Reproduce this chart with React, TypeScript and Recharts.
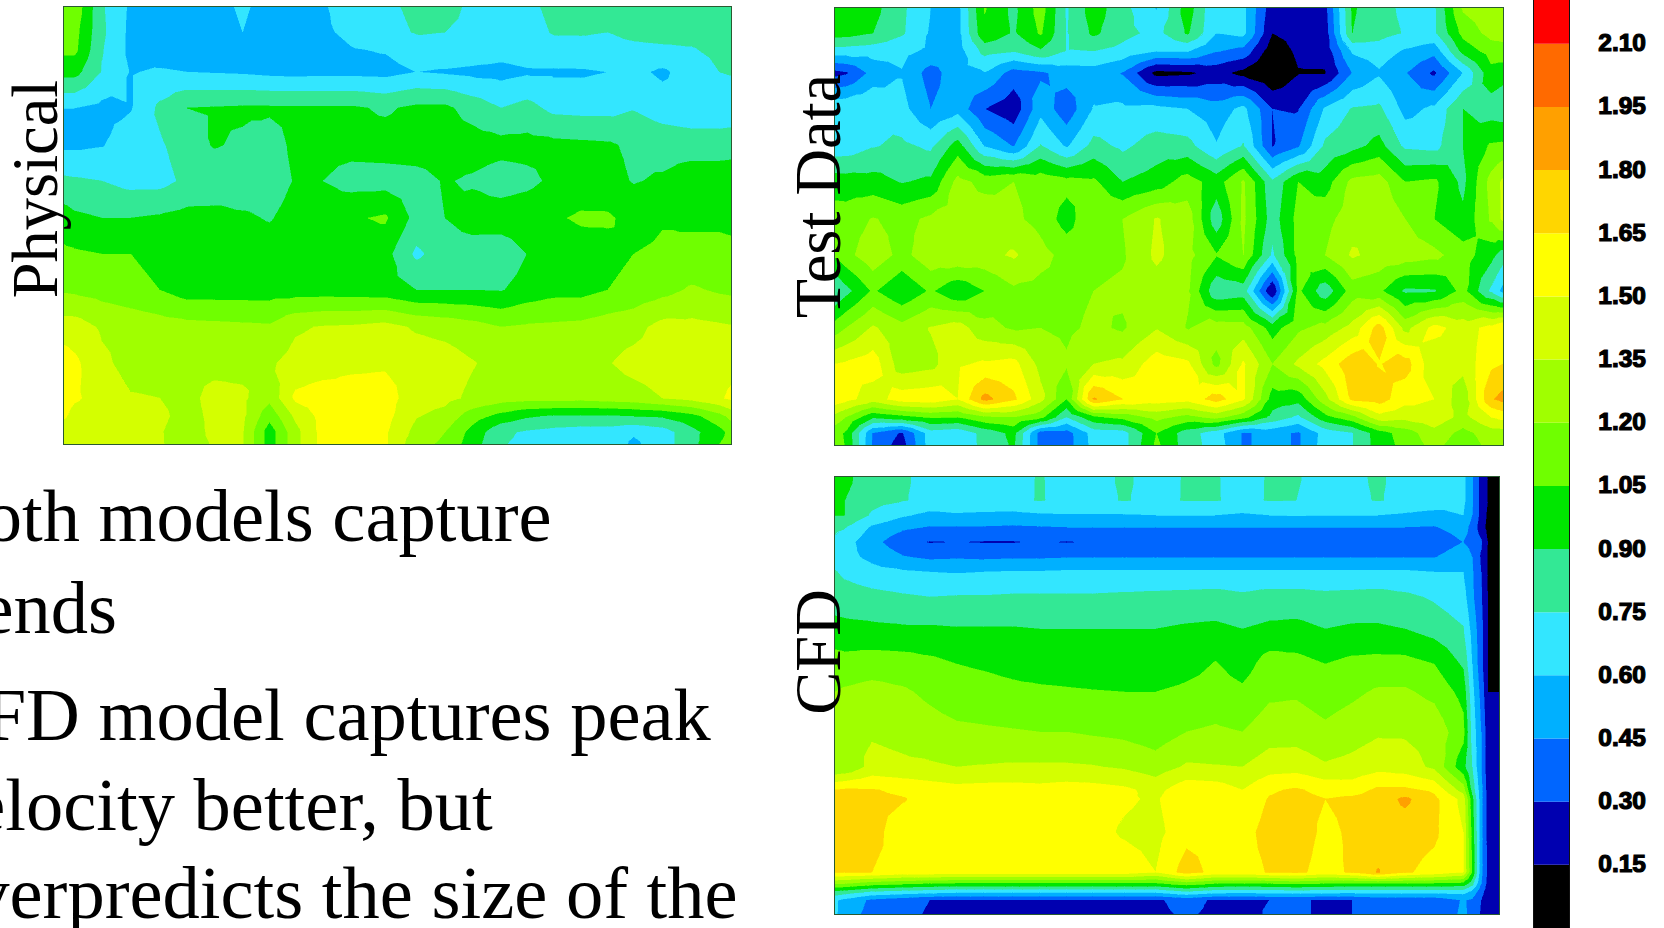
import { Bar, BarChart, Scatter, ScatterChart, XAxis, YAxis } from "recharts";

// velocity bands, black at the bottom of the scale and red at the top
const levelTicks = [0.15, 0.3, 0.45, 0.6, 0.75, 0.9, 1.05, 1.2, 1.35, 1.5, 1.65, 1.8, 1.95, 2.1];
const levelColors = ["#000000", "#0000b0", "#0066ff", "#00b0ff", "#33e6ff", "#33e895", "#00e600", "#6fff00", "#a0ff00", "#d4ff00", "#ffff00", "#ffd600", "#ffa000", "#ff6a00", "#ff0000"];

// measurement stations, shared by the physical and test data panels
const stationsX = [0, 11, 38, 67, 96, 123, 150, 179, 206, 232, 259, 288, 322, 353, 382, 409, 438, 464, 491, 518, 545, 571, 600, 629, 657, 669];
const stationsY = [0, 25, 43, 65, 101, 138, 174, 211, 247, 283, 320, 356, 391, 409, 425, 437];

// the CFD mesh is tighter near the right and bottom walls
const cfdStationsX = [0, 10, 37, 68, 95, 122, 149, 178, 205, 232, 258, 290, 321, 352, 381, 408, 435, 462, 491, 518, 544, 571, 600, 629, 638, 647, 654, 665];
const cfdStationsY = [0, 23, 38, 50, 65, 80, 95, 120, 152, 187, 215, 255, 290, 313, 322, 355, 395, 407, 415, 423, 437];

const physicalValues = [
  [1.15, 1.15, 0.77, 0.57, 0.55, 0.55, 0.55, 0.62, 0.55, 0.55, 0.58, 0.68, 0.72, 0.78, 0.8, 0.72, 0.68, 0.72, 0.78, 0.8, 0.8, 0.81, 0.81, 0.82, 0.82, 0.82],
  [1.12, 1.1, 0.78, 0.56, 0.54, 0.54, 0.53, 0.6, 0.53, 0.53, 0.57, 0.64, 0.7, 0.76, 0.75, 0.72, 0.68, 0.7, 0.76, 0.76, 0.75, 0.78, 0.79, 0.79, 0.8, 0.82],
  [1.08, 1.08, 0.76, 0.56, 0.5, 0.5, 0.5, 0.5, 0.5, 0.5, 0.52, 0.59, 0.61, 0.68, 0.72, 0.7, 0.66, 0.68, 0.7, 0.71, 0.71, 0.72, 0.73, 0.74, 0.78, 0.8],
  [0.95, 0.95, 0.74, 0.59, 0.62, 0.6, 0.59, 0.58, 0.56, 0.55, 0.56, 0.56, 0.55, 0.6, 0.58, 0.56, 0.55, 0.58, 0.58, 0.58, 0.6, 0.64, 0.57, 0.68, 0.75, 0.76],
  [0.6, 0.6, 0.56, 0.59, 0.78, 0.9, 0.91, 0.92, 0.92, 0.92, 0.92, 0.92, 0.88, 0.93, 0.93, 0.84, 0.75, 0.8, 0.71, 0.7, 0.7, 0.74, 0.68, 0.66, 0.66, 0.66],
  [0.57, 0.57, 0.59, 0.68, 0.73, 0.82, 0.91, 0.88, 0.84, 0.93, 0.95, 0.95, 0.96, 0.97, 0.97, 0.97, 0.95, 0.95, 0.94, 0.93, 0.92, 0.87, 0.84, 0.82, 0.82, 0.83],
  [0.78, 0.77, 0.75, 0.7, 0.7, 0.78, 0.8, 0.82, 0.83, 0.91, 0.9, 0.84, 0.84, 0.85, 0.91, 0.88, 0.83, 0.86, 0.93, 0.97, 0.95, 0.89, 0.92, 1.0, 1.0, 1.0],
  [0.97, 0.93, 0.9, 0.9, 0.92, 0.95, 0.95, 0.92, 0.89, 0.95, 1.0, 1.03, 1.07, 0.85, 0.9, 0.97, 0.98, 1.0, 1.03, 1.07, 1.07, 1.0, 1.04, 1.03, 1.03, 1.02],
  [1.08, 1.07, 1.05, 1.05, 1.0, 0.98, 0.97, 0.97, 0.97, 0.97, 0.98, 0.97, 0.95, 0.72, 0.82, 0.82, 0.8, 0.9, 0.95, 0.98, 1.0, 1.05, 1.07, 1.08, 1.08, 1.08],
  [1.18, 1.17, 1.14, 1.1, 1.05, 0.98, 0.98, 0.98, 0.98, 0.98, 0.98, 0.97, 0.96, 0.9, 0.9, 0.9, 0.89, 0.96, 1.0, 1.0, 1.05, 1.1, 1.15, 1.22, 1.18, 1.17],
  [1.42, 1.42, 1.33, 1.3, 1.27, 1.25, 1.24, 1.23, 1.22, 1.33, 1.36, 1.37, 1.4, 1.33, 1.3, 1.26, 1.2, 1.22, 1.23, 1.24, 1.28, 1.3, 1.4, 1.39, 1.37, 1.36],
  [1.58, 1.53, 1.38, 1.3, 1.3, 1.3, 1.3, 1.3, 1.33, 1.4, 1.42, 1.47, 1.48, 1.44, 1.42, 1.36, 1.3, 1.28, 1.28, 1.3, 1.34, 1.4, 1.43, 1.44, 1.44, 1.45],
  [1.55, 1.52, 1.44, 1.36, 1.35, 1.3, 1.4, 1.38, 1.24, 1.53, 1.58, 1.56, 1.56, 1.42, 1.39, 1.32, 1.27, 1.25, 1.26, 1.25, 1.27, 1.29, 1.35, 1.4, 1.48, 1.53],
  [1.52, 1.45, 1.42, 1.4, 1.38, 1.3, 1.38, 1.38, 1.1, 1.38, 1.55, 1.58, 1.55, 1.36, 1.3, 1.12, 1.0, 0.92, 0.88, 0.88, 0.88, 0.9, 0.92, 1.0, 1.15, 1.25],
  [1.42, 1.4, 1.4, 1.38, 1.36, 1.28, 1.38, 1.36, 0.97, 1.3, 1.55, 1.58, 1.52, 1.3, 1.2, 1.0, 0.78, 0.73, 0.7, 0.68, 0.68, 0.62, 0.68, 0.85, 1.0, 1.1],
  [1.4, 1.38, 1.38, 1.38, 1.36, 1.3, 1.36, 1.36, 0.97, 1.3, 1.55, 1.58, 1.52, 1.25, 1.17, 0.97, 0.76, 0.72, 0.7, 0.7, 0.7, 0.57, 0.68, 0.85, 1.05, 1.1],
];

const testValues = [
  [0.98, 0.98, 0.95, 0.78, 0.6, 0.55, 1.06, 0.86, 1.12, 0.73, 0.98, 0.8, 0.59, 0.98, 0.6, 0.64, 0.2, 0.22, 0.25, 0.92, 0.8, 0.72, 0.72, 1.22, 1.3, 1.3],
  [0.97, 0.96, 0.9, 0.77, 0.58, 0.55, 1.02, 0.88, 1.07, 0.74, 0.93, 0.8, 0.7, 0.92, 0.6, 0.64, 0.15, 0.2, 0.22, 0.9, 0.8, 0.74, 0.72, 1.1, 1.25, 1.25],
  [0.68, 0.68, 0.66, 0.64, 0.57, 0.53, 0.8, 0.76, 0.88, 0.74, 0.75, 0.7, 0.6, 0.61, 0.46, 0.4, 0.05, 0.18, 0.2, 0.62, 0.68, 0.58, 0.5, 0.95, 1.12, 1.15],
  [0.25, 0.28, 0.5, 0.59, 0.38, 0.55, 0.59, 0.38, 0.42, 0.52, 0.53, 0.44, 0.1, 0.12, 0.2, 0.1, 0.0, 0.14, 0.14, 0.45, 0.58, 0.46, 0.27, 0.6, 1.0, 0.95],
  [0.72, 0.73, 0.75, 0.65, 0.45, 0.54, 0.3, 0.2, 0.55, 0.35, 0.61, 0.63, 0.64, 0.6, 0.52, 0.64, 0.3, 0.29, 0.62, 0.76, 0.78, 0.55, 0.63, 0.9, 0.82, 0.8],
  [0.65, 0.66, 0.74, 0.78, 0.72, 0.97, 0.59, 0.44, 0.76, 0.58, 0.8, 0.72, 0.82, 0.8, 0.61, 0.76, 0.29, 0.43, 0.78, 0.85, 0.95, 0.72, 0.7, 0.9, 1.07, 1.08],
  [0.98, 0.97, 0.96, 0.89, 0.93, 1.25, 1.15, 1.2, 1.15, 1.1, 1.08, 0.9, 0.97, 1.12, 0.98, 1.22, 0.78, 1.05, 0.98, 1.24, 1.27, 1.05, 1.08, 0.86, 1.25, 1.38],
  [1.12, 1.12, 1.21, 1.15, 1.23, 1.28, 1.3, 1.23, 1.15, 0.98, 1.19, 1.2, 1.36, 1.28, 0.8, 1.23, 0.82, 1.1, 1.15, 1.28, 1.32, 1.2, 1.05, 0.93, 1.22, 1.38],
  [1.07, 1.15, 1.3, 1.15, 1.3, 1.33, 1.3, 1.37, 1.25, 1.15, 1.15, 1.18, 1.38, 1.25, 1.06, 1.2, 0.72, 1.1, 1.2, 1.37, 1.3, 1.28, 1.24, 1.12, 0.95, 0.82],
  [0.75, 0.85, 1.07, 0.92, 1.07, 0.92, 1.05, 1.17, 1.15, 1.15, 1.2, 1.23, 1.28, 1.22, 0.78, 0.82, 0.14, 1.08, 0.8, 1.12, 1.08, 0.87, 0.88, 1.1, 0.72, 0.55],
  [1.12, 1.2, 1.37, 1.25, 1.36, 1.42, 1.25, 1.18, 1.2, 1.17, 1.23, 1.18, 1.34, 1.19, 1.28, 1.27, 0.98, 1.17, 1.25, 1.4, 1.72, 1.3, 1.55, 1.43, 1.55, 1.65],
  [1.5, 1.52, 1.58, 1.26, 1.3, 1.48, 1.52, 1.55, 1.3, 1.22, 1.35, 1.38, 1.58, 1.53, 1.15, 1.52, 1.2, 1.38, 1.55, 1.75, 1.64, 1.72, 1.38, 1.4, 1.62, 1.65],
  [1.6, 1.55, 1.42, 1.58, 1.6, 1.5, 1.85, 1.68, 1.4, 1.05, 1.82, 1.65, 1.58, 1.55, 1.72, 1.52, 0.98, 0.95, 1.3, 1.68, 1.72, 1.55, 1.5, 1.25, 1.78, 1.85],
  [1.3, 1.2, 0.93, 1.0, 1.07, 1.05, 1.18, 1.2, 1.1, 0.75, 1.02, 1.1, 1.25, 1.15, 1.25, 1.1, 0.85, 0.72, 1.0, 1.15, 1.45, 1.4, 1.45, 1.3, 1.5, 1.55],
  [1.1, 1.03, 0.44, 0.28, 0.68, 0.64, 0.8, 0.94, 0.38, 0.38, 0.66, 0.68, 1.05, 0.82, 0.66, 0.43, 0.5, 0.43, 0.66, 0.74, 0.98, 1.12, 1.3, 1.15, 1.28, 1.28],
  [1.1, 1.04, 0.42, 0.23, 0.68, 0.62, 0.8, 0.92, 0.38, 0.38, 0.65, 0.68, 1.08, 0.82, 0.68, 0.43, 0.5, 0.43, 0.67, 0.74, 0.97, 1.1, 1.25, 1.1, 1.25, 1.25],
];

const cfdValues = [
  [0.98, 0.95, 0.78, 0.77, 0.7, 0.7, 0.7, 0.7, 0.76, 0.7, 0.7, 0.77, 0.7, 0.76, 0.76, 0.7, 0.76, 0.76, 0.7, 0.72, 0.77, 0.7, 0.7, 0.64, 0.47, 0.25, 0.14, 0.1],
  [0.93, 0.9, 0.8, 0.76, 0.71, 0.71, 0.71, 0.71, 0.76, 0.71, 0.71, 0.76, 0.71, 0.76, 0.76, 0.71, 0.76, 0.75, 0.71, 0.72, 0.76, 0.71, 0.7, 0.64, 0.47, 0.25, 0.14, 0.1],
  [0.9, 0.9, 0.73, 0.62, 0.56, 0.58, 0.57, 0.56, 0.58, 0.59, 0.59, 0.59, 0.6, 0.6, 0.6, 0.58, 0.6, 0.61, 0.6, 0.6, 0.6, 0.58, 0.55, 0.6, 0.45, 0.25, 0.12, 0.08],
  [0.78, 0.76, 0.58, 0.48, 0.44, 0.44, 0.44, 0.43, 0.44, 0.45, 0.45, 0.45, 0.45, 0.45, 0.45, 0.45, 0.45, 0.45, 0.45, 0.45, 0.45, 0.45, 0.44, 0.52, 0.4, 0.22, 0.1, 0.08],
  [0.72, 0.66, 0.5, 0.35, 0.29, 0.3, 0.29, 0.29, 0.31, 0.29, 0.31, 0.32, 0.32, 0.32, 0.32, 0.32, 0.32, 0.32, 0.32, 0.32, 0.32, 0.32, 0.34, 0.45, 0.4, 0.32, 0.14, 0.1],
  [0.7, 0.65, 0.56, 0.46, 0.42, 0.43, 0.42, 0.43, 0.43, 0.44, 0.44, 0.44, 0.44, 0.44, 0.44, 0.44, 0.44, 0.44, 0.44, 0.44, 0.44, 0.44, 0.44, 0.55, 0.45, 0.28, 0.13, 0.08],
  [0.76, 0.72, 0.65, 0.62, 0.6, 0.59, 0.6, 0.61, 0.61, 0.62, 0.62, 0.62, 0.62, 0.62, 0.62, 0.62, 0.62, 0.62, 0.62, 0.62, 0.62, 0.62, 0.6, 0.6, 0.47, 0.3, 0.13, 0.08],
  [0.83, 0.82, 0.8, 0.77, 0.75, 0.76, 0.76, 0.77, 0.77, 0.77, 0.77, 0.78, 0.79, 0.8, 0.81, 0.78, 0.81, 0.81, 0.79, 0.8, 0.81, 0.78, 0.73, 0.66, 0.48, 0.32, 0.14, 0.1],
  [0.95, 0.94, 0.93, 0.92, 0.92, 0.91, 0.91, 0.91, 0.9, 0.9, 0.9, 0.9, 0.9, 0.92, 0.93, 0.9, 0.93, 0.94, 0.9, 0.92, 0.92, 0.9, 0.84, 0.76, 0.55, 0.35, 0.14, 0.1],
  [1.12, 1.11, 1.13, 1.12, 1.09, 1.05, 1.03, 1.0, 0.97, 0.96, 0.94, 0.93, 0.92, 0.98, 1.06, 0.98, 1.12, 1.1, 1.05, 1.09, 1.1, 1.1, 1.05, 0.88, 0.6, 0.35, 0.14, 0.1],
  [1.2, 1.22, 1.25, 1.22, 1.17, 1.12, 1.11, 1.09, 1.08, 1.07, 1.06, 1.05, 1.05, 1.09, 1.12, 1.08, 1.17, 1.18, 1.13, 1.17, 1.22, 1.22, 1.16, 1.0, 0.65, 0.4, 0.15, 0.15],
  [1.3, 1.31, 1.33, 1.3, 1.26, 1.23, 1.22, 1.21, 1.2, 1.2, 1.18, 1.16, 1.12, 1.2, 1.22, 1.2, 1.28, 1.28, 1.23, 1.28, 1.33, 1.33, 1.3, 1.1, 0.7, 0.45, 0.2, 0.2],
  [1.2, 1.22, 1.4, 1.38, 1.37, 1.35, 1.36, 1.37, 1.37, 1.37, 1.36, 1.33, 1.27, 1.37, 1.36, 1.35, 1.43, 1.44, 1.37, 1.4, 1.45, 1.42, 1.32, 0.95, 0.75, 0.45, 0.2, 0.2],
  [1.65, 1.67, 1.66, 1.62, 1.58, 1.55, 1.56, 1.56, 1.55, 1.57, 1.56, 1.53, 1.45, 1.6, 1.58, 1.5, 1.63, 1.67, 1.6, 1.58, 1.68, 1.68, 1.62, 1.28, 0.85, 0.5, 0.22, 0.2],
  [1.7, 1.7, 1.68, 1.66, 1.6, 1.57, 1.57, 1.57, 1.57, 1.58, 1.56, 1.52, 1.48, 1.62, 1.6, 1.55, 1.66, 1.7, 1.65, 1.68, 1.72, 1.83, 1.69, 1.45, 0.95, 0.5, 0.22, 0.2],
  [1.72, 1.72, 1.7, 1.57, 1.57, 1.58, 1.58, 1.58, 1.58, 1.58, 1.55, 1.48, 1.45, 1.6, 1.6, 1.6, 1.7, 1.72, 1.62, 1.67, 1.72, 1.72, 1.68, 1.5, 1.0, 0.5, 0.24, 0.2],
  [1.66, 1.66, 1.65, 1.6, 1.6, 1.58, 1.58, 1.58, 1.58, 1.58, 1.58, 1.58, 1.5, 1.72, 1.6, 1.6, 1.66, 1.68, 1.6, 1.67, 1.81, 1.67, 1.6, 1.5, 1.05, 0.5, 0.26, 0.2],
  [1.2, 1.18, 1.1, 1.05, 1.02, 1.0, 1.0, 1.0, 1.0, 1.0, 1.0, 1.0, 1.0, 1.1, 1.02, 1.0, 1.02, 1.05, 1.02, 1.0, 1.0, 1.0, 1.0, 0.98, 0.8, 0.45, 0.24, 0.2],
  [0.85, 0.82, 0.72, 0.68, 0.65, 0.62, 0.62, 0.62, 0.62, 0.62, 0.62, 0.62, 0.62, 0.72, 0.65, 0.64, 0.65, 0.66, 0.65, 0.64, 0.64, 0.64, 0.64, 0.65, 0.55, 0.35, 0.22, 0.2],
  [0.62, 0.56, 0.42, 0.36, 0.3, 0.29, 0.29, 0.29, 0.28, 0.28, 0.28, 0.28, 0.28, 0.35, 0.28, 0.28, 0.3, 0.32, 0.28, 0.3, 0.35, 0.35, 0.36, 0.46, 0.43, 0.3, 0.2, 0.2],
  [0.62, 0.52, 0.4, 0.35, 0.28, 0.27, 0.27, 0.27, 0.27, 0.27, 0.27, 0.27, 0.27, 0.32, 0.27, 0.27, 0.31, 0.32, 0.28, 0.3, 0.36, 0.36, 0.36, 0.47, 0.42, 0.28, 0.2, 0.2],
];

const colorbarRow: Record<string, number | string> = { name: "velocity" };
levelColors.forEach((_, i) => { colorbarRow["band" + i] = 0.15; });

type Vertex = { px: number; py: number; v: number };

// keep the part of a polygon on one side of a contour level
const clipAt = (poly: Vertex[], level: number, keepAbove: boolean) => {
  const out: Vertex[] = [];
  poly.forEach((a, k) => {
    const b = poly[(k + 1) % poly.length];
    const aIn = keepAbove ? a.v >= level : a.v <= level;
    const bIn = keepAbove ? b.v >= level : b.v <= level;
    if (aIn) out.push(a);
    if (aIn !== bIn) {
      const t = (level - a.v) / (b.v - a.v);
      out.push({ px: a.px + (b.px - a.px) * t, py: a.py + (b.py - a.py) * t, v: level });
    }
  });
  return out;
};

const contourPaths = (corners: Vertex[]) => {
  const center = {
    px: (corners[0].px + corners[2].px) / 2,
    py: (corners[0].py + corners[2].py) / 2,
    v: corners.reduce((s, c) => s + c.v, 0) / 4,
  };
  const paths: string[] = levelColors.map(() => "");
  corners.forEach((c, k) => {
    const tri = [c, corners[(k + 1) % 4], center];
    levelColors.forEach((_, band) => {
      let poly = tri;
      if (band > 0) poly = clipAt(poly, levelTicks[band - 1], true);
      if (band < levelTicks.length && poly.length) poly = clipAt(poly, levelTicks[band], false);
      if (poly.length > 2) {
        paths[band] += "M" + poly.map((p) => p.px.toFixed(2) + " " + p.py.toFixed(2)).join("L") + "Z";
      }
    });
  });
  return paths;
};

const ContourPanel = ({ xs, ys, values, width, height, left, top }: {
  xs: number[]; ys: number[]; values: number[][]; width: number; height: number; left: number; top: number;
}) => {
  const spanX = xs[xs.length - 1];
  const spanY = ys[ys.length - 1];
  const nodes: { x: number; y: number; i: number; j: number }[] = [];
  ys.slice(0, -1).forEach((y, j) => xs.slice(0, -1).forEach((x, i) => nodes.push({ x, y, i, j })));

  const cell = (props: any) => {
    const { cx, cy, payload } = props;
    const { i, j } = payload;
    const sx = width / spanX;
    const sy = height / spanY;
    const at = (ci: number, cj: number) => ({
      px: cx + (xs[ci] - xs[i]) * sx,
      py: cy + (ys[cj] - ys[j]) * sy,
      v: values[cj][ci],
    });
    const paths = contourPaths([at(i, j), at(i + 1, j), at(i + 1, j + 1), at(i, j + 1)]);
    return (
      <g>
        {paths.map((d, band) =>
          d ? <path key={band} d={d} fill={levelColors[band]} stroke={levelColors[band]} strokeWidth={0.5} shapeRendering="crispEdges" /> : null
        )}
      </g>
    );
  };

  return (
    <div style={{ position: "absolute", left, top, width, height }}>
      <ScatterChart width={width} height={height} margin={{ top: 0, right: 0, bottom: 0, left: 0 }}>
        <XAxis type="number" dataKey="x" domain={[0, spanX]} hide />
        <YAxis type="number" dataKey="y" domain={[0, spanY]} reversed hide />
        <Scatter data={nodes} shape={cell} isAnimationActive={false} />
      </ScatterChart>
      <div style={{ position: "absolute", inset: -1, border: "1px solid #2a5a30" }} />
    </div>
  );
};

const BarTick = ({ y, payload }: any) => (
  <text x={113} y={y + 7.5} textAnchor="end" fontFamily="Liberation Sans" fontWeight="bold" fontSize={24.5} stroke="#000" strokeWidth={1.2} fill="#000">
    {payload.value.toFixed(2)}
  </text>
);

const Colorbar = () => (
  <div style={{ position: "absolute", left: 1533, top: 0 }}>
    <BarChart width={131} height={928} data={[colorbarRow]} margin={{ top: 0, right: 0, bottom: 0, left: 0 }} barCategoryGap={0}>
      <XAxis dataKey="name" hide />
      <YAxis orientation="right" type="number" domain={[0, 2.204]} allowDataOverflow ticks={levelTicks} interval={0} width={95} axisLine={false} tickLine={false} tick={<BarTick />} />
      {levelColors.map((c, i) => (
        <Bar key={c} dataKey={"band" + i} stackId="v" fill={c} isAnimationActive={false} />
      ))}
    </BarChart>
    <div style={{ position: "absolute", left: 0, top: 0, width: 35, height: 928, borderLeft: "1px solid #111", borderRight: "1px solid #111" }} />
  </div>
);

const bodyLines = [
  { text: "Both models capture", y: 541 },
  { text: "trends", y: 633 },
  { text: "CFD model captures peak", y: 740 },
  { text: "velocity better, but", y: 830 },
  { text: "overpredicts the size of the", y: 918 },
];

const panelLabels = [
  { text: "Physical", x: 57, y: 189 },
  { text: "Test Data", x: 840, y: 196 },
  { text: "CFD", x: 840, y: 652 },
];

export default function App() {
  return (
    <div style={{ position: "absolute", left: 0, top: 0, width: 1664, height: 928, overflow: "hidden", background: "#fff" }}>
      <ContourPanel xs={stationsX} ys={stationsY} values={physicalValues} width={667.5} height={437} left={63.5} top={6.5} />
      <ContourPanel xs={stationsX} ys={stationsY} values={testValues} width={668} height={437} left={834.5} top={7.5} />
      <ContourPanel xs={cfdStationsX} ys={cfdStationsY} values={cfdValues} width={664} height={437} left={834.5} top={476.5} />
      <Colorbar />
      <svg width={1664} height={928} style={{ position: "absolute", left: 0, top: 0, pointerEvents: "none" }}>
        {bodyLines.map((l) => (
          <text key={l.text} x={-65} y={l.y} fontFamily="Liberation Serif" fontSize={74.5}>{l.text}</text>
        ))}
        {panelLabels.map((l) => (
          <text key={l.text} transform={`translate(${l.x} ${l.y}) rotate(-90)`} textAnchor="middle" fontFamily="Liberation Serif" fontSize={64.5}>{l.text}</text>
        ))}
      </svg>
    </div>
  );
}
